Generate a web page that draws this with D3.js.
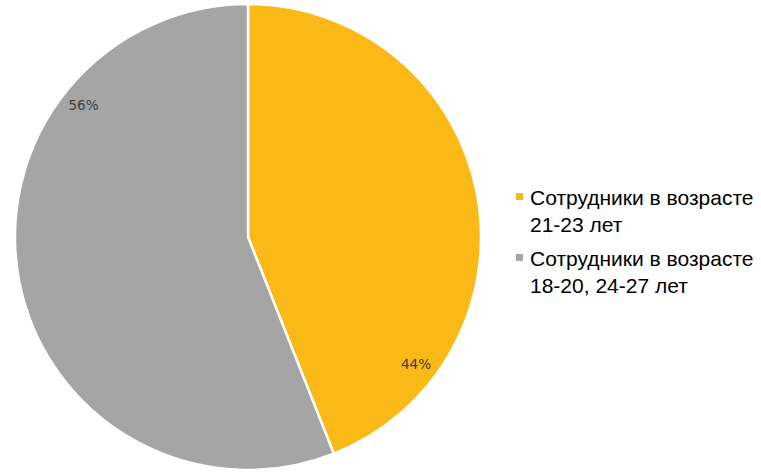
<!DOCTYPE html>
<html><head><meta charset="utf-8">
<script src="https://cdn.jsdelivr.net/npm/d3@7"></script>
<style>body{margin:0;background:#fff}svg{display:block}</style>
</head><body>
<svg id="c" width="761" height="476"></svg>
<script>
const categories = ["Сотрудники в возрасте 21-23 лет", "Сотрудники в возрасте 18-20, 24-27 лет"];
const legendLines = [["Сотрудники в возрасте", "21-23 лет"], ["Сотрудники в возрасте", "18-20, 24-27 лет"]];
const values = [44, 56];
const percentLabels = ["44%", "56%"];
const colors = ["#FBB917", "#A5A5A5"];

const svg = d3.select("#c");
const cx = 248, cy = 237, r = 233;
const g = svg.append("g").attr("transform", `translate(${cx},${cy})`);
const pie = d3.pie().sort(null).value(d => d)(values);
const arc = d3.arc().innerRadius(0).outerRadius(r);
g.selectAll("path").data(pie).enter().append("path")
  .attr("d", arc).attr("fill", (d, i) => colors[i])
  .attr("stroke", "#fff").attr("stroke-width", 2.5).attr("stroke-linejoin", "round");

// label placement: angle offset back from slice end, radius fraction
const labelBack = [0.545, 0.895];
const labelR = 0.905 * r;
g.selectAll("text.pl").data(pie).enter().append("text")
  .attr("class", "pl")
  .attr("x", (d, i) => labelR * Math.sin(d.endAngle - labelBack[i]))
  .attr("y", (d, i) => -labelR * Math.cos(d.endAngle - labelBack[i]))
  .attr("text-anchor", "middle").attr("dy", "0.36em")
  .attr("font-family", "DejaVu Sans, sans-serif").attr("font-size", 13.5)
  .attr("fill", "#404040")
  .text((d, i) => percentLabels[i]);

const lg = svg.append("g").attr("transform", "translate(516,0)");
const entryY = [205, 266];
const lineGap = 27;
legendLines.forEach((lines, i) => {
  lg.append("rect").attr("x", 0).attr("y", entryY[i] - 12).attr("width", 7).attr("height", 7).attr("fill", colors[i]);
  lines.forEach((t, j) => {
    lg.append("text").attr("x", 14).attr("y", entryY[i] + j * lineGap)
      .attr("font-family", "Liberation Sans, Arial, sans-serif").attr("font-size", 21)
      .attr("fill", "#000").text(t);
  });
});
</script>
</body></html>
